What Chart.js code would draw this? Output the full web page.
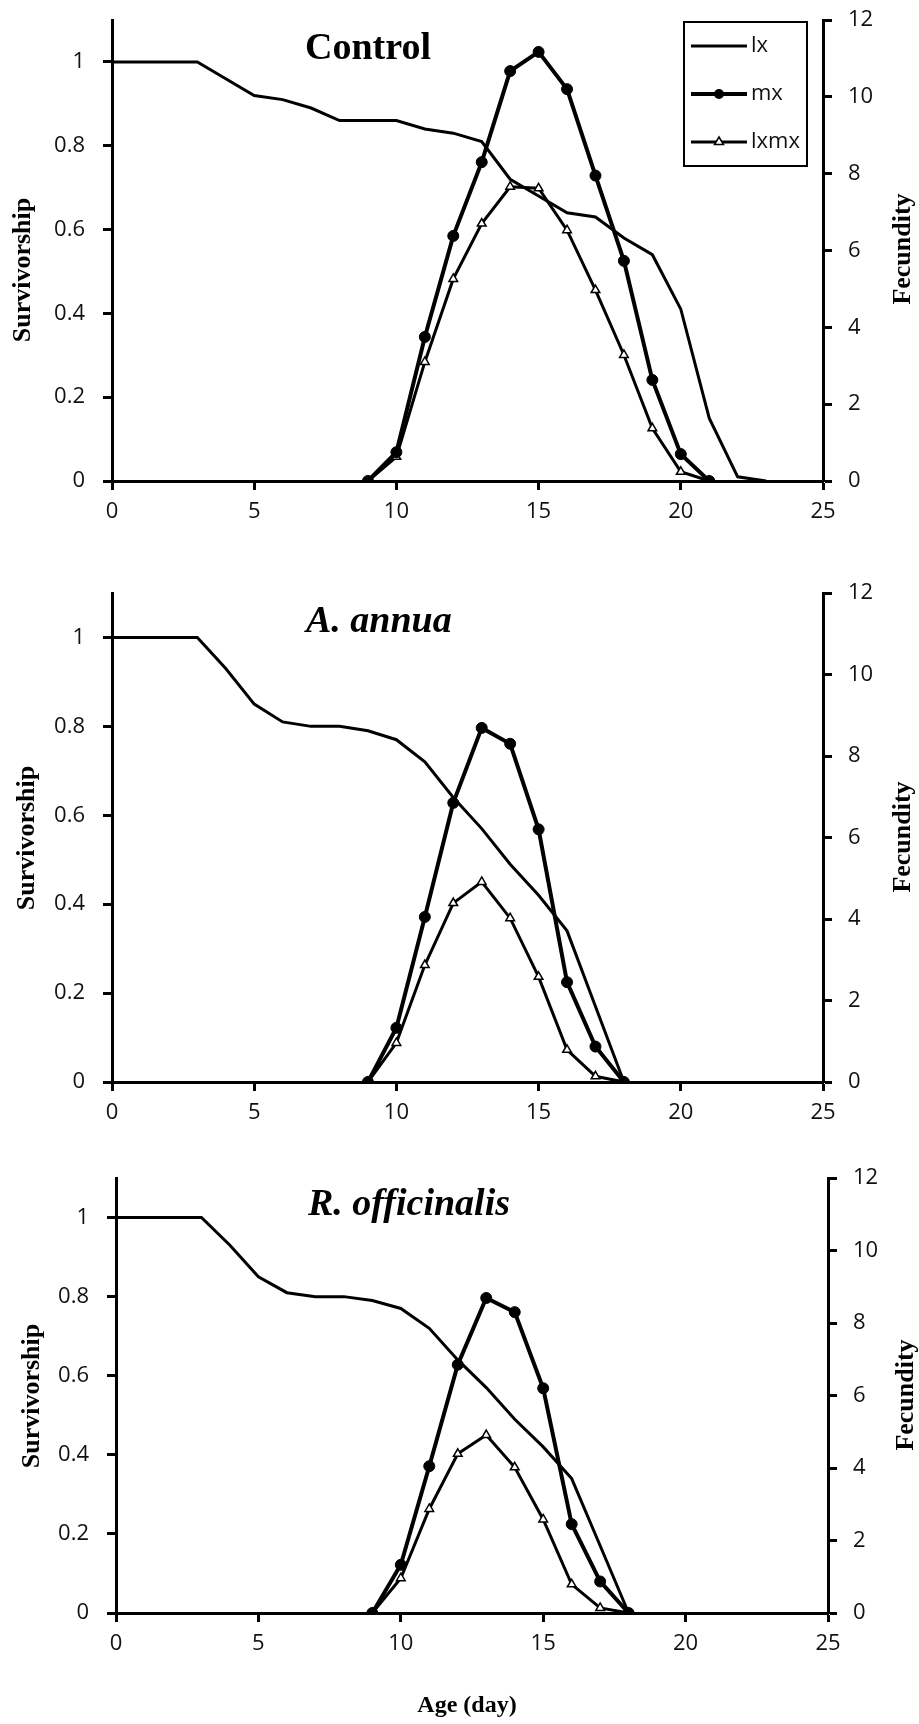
<!DOCTYPE html>
<html>
<head>
<meta charset="utf-8">
<script src="https://cdn.jsdelivr.net/npm/chart.js@4.4.1/dist/chart.umd.min.js"></script>
<style>
body { margin: 0; background: #fff; }
.panel { position: absolute; left: 0; }
</style>
</head>
<body>
<div class="panel" style="top:0px"><canvas id="c1" width="919" height="560"></canvas></div>
<div class="panel" style="top:560px"><canvas id="c2" width="919" height="590"></canvas></div>
<div class="panel" style="top:1150px"><canvas id="c3" width="919" height="574"></canvas></div>
<script>
// Control
var ctlLxDays = [0,1,2,3,4,5,6,7,8,9,10,11,12,13,14,15,16,17,18,19,20,21,22,23];
var ctlLx     = [1,1,1,1,0.96,0.92,0.91,0.89,0.86,0.86,0.86,0.84,0.83,0.81,0.72,0.68,0.64,0.63,0.58,0.54,0.41,0.15,0.01,0];
var ctlMxDays = [9,10,11,12,13,14,15,16,17,18,19,20,21];
var ctlMx     = [0,0.75,3.75,6.38,8.3,10.67,11.17,10.2,7.95,5.73,2.63,0.7,0];
var ctlLxmx   = [0,0.63,3.1,5.26,6.7,7.66,7.62,6.53,4.97,3.28,1.37,0.24,0];

// A. annua
var annLxDays = [0,1,2,3,4,5,6,7,8,9,10,11,12,13,14,15,16,17,18];
var annLx     = [1,1,1,1,0.93,0.85,0.81,0.80,0.80,0.79,0.77,0.72,0.64,0.57,0.49,0.42,0.34,0.17,0];
var annMxDays = [9,10,11,12,13,14,15,16,17,18];
var annMx     = [0,1.33,4.05,6.85,8.69,8.3,6.2,2.45,0.87,0];
var annLxmx   = [0,0.96,2.87,4.39,4.91,4.02,2.58,0.79,0.14,0];

// R. officinalis
var rofLxDays = [0,1,2,3,4,5,6,7,8,9,10,11,12,13,14,15,16,17,18];
var rofLx     = [1,1,1,1,0.93,0.85,0.81,0.80,0.80,0.79,0.77,0.72,0.64,0.57,0.49,0.42,0.34,0.17,0];
var rofMxDays = [9,10,11,12,13,14,15,16,17,18];
var rofMx     = [0,1.33,4.05,6.85,8.69,8.3,6.2,2.45,0.87,0];
var rofLxmx   = [0,0.96,2.87,4.39,4.91,4.02,2.58,0.79,0.14,0];

var xTicks = [0, 25, 5];      // min, max, step
var survTicks = [0, 1.1, 0.2];
var fecTicks = [0, 12, 2];

function pts(xs, ys) {
	return xs.map(function(x, i){ return {x: x, y: ys[i]}; });
}

var decor = {
	id: 'decor',
	afterDraw: function(chart, args, o) {
		var ctx = chart.ctx;
		ctx.save();
		ctx.fillStyle = '#000';
		ctx.font = (o.italic ? 'italic ' : '') + 'bold 38px "Liberation Serif"';
		ctx.textAlign = 'left';
		ctx.textBaseline = 'alphabetic';
		ctx.fillText(o.title, o.titleX, o.titleY);

		ctx.font = 'bold 26px "Liberation Serif"';
		ctx.textAlign = 'center';
		ctx.textBaseline = 'middle';
		[[o.leftTitle, o.leftX, o.leftY], [o.rightTitle, o.rightX, o.rightY]].forEach(function(t){
			ctx.save();
			ctx.translate(t[1], t[2]);
			ctx.rotate(-Math.PI / 2);
			ctx.fillText(t[0], 0, 0);
			ctx.restore();
		});

		if (o.xTitle) {
			ctx.font = 'bold 24px "Liberation Serif"';
			ctx.fillText(o.xTitle, o.xTitleX, o.xTitleY);
		}

		if (o.legend) {
			ctx.strokeStyle = '#000';
			ctx.lineWidth = 2;
			ctx.strokeRect(684, 22, 123, 144);
			var rows = [46, 94, 142];
			chart.data.datasets.forEach(function(ds, i){
				var y = rows[i];
				ctx.beginPath();
				ctx.lineWidth = ds.borderWidth;
				ctx.moveTo(691, y);
				ctx.lineTo(747, y);
				ctx.stroke();
				if (ds.pointStyle === 'circle') {
					ctx.beginPath();
					ctx.arc(719, y, 5, 0, Math.PI * 2);
					ctx.fill();
				} else if (ds.pointStyle === 'triangle') {
					ctx.beginPath();
					ctx.lineWidth = 1.5;
					ctx.moveTo(719, y - 5);
					ctx.lineTo(723.5, y + 2.5);
					ctx.lineTo(714.5, y + 2.5);
					ctx.closePath();
					ctx.fillStyle = '#fff';
					ctx.fill();
					ctx.stroke();
					ctx.fillStyle = '#000';
				}
				ctx.font = '22px "Open Sans"';
				ctx.textAlign = 'left';
				ctx.fillStyle = '#111';
				ctx.fillText(ds.label, 751, y);
				ctx.fillStyle = '#000';
			});
		}
		ctx.restore();
	}
};

function axisStyle() {
	return {
		grid: { drawOnChartArea: false, drawTicks: true, tickLength: 9, tickColor: '#000', tickWidth: 3 },
		border: { display: true, color: '#000', width: 3 }
	};
}

// keep Chart.js from pushing the plot area for label overhang
function noPad(s) {
	s.paddingTop = 0; s.paddingBottom = 0; s.paddingLeft = 0; s.paddingRight = 0;
}

function makeChart(id, lxPts, mxPts, lxmxPts, dims, deco) {
	var x = axisStyle(), yL = axisStyle(), yR = axisStyle();
	x.type = 'linear'; x.min = xTicks[0]; x.max = xTicks[1];
	x.ticks = { stepSize: xTicks[2], padding: 9, color: '#111', font: { family: 'Open Sans', size: 22 } };
	x.afterFit = function(s){ s.height = dims.xh; noPad(s); };

	yL.position = 'left'; yL.min = survTicks[0]; yL.max = survTicks[1];
	yL.ticks = { stepSize: survTicks[2], includeBounds: false, padding: 18, color: '#111',
		font: { family: 'Open Sans', size: 22 },
		callback: function(v){ return String(+v.toFixed(1)); } };
	yL.afterFit = function(s){ s.width = dims.left; noPad(s); };

	yR.position = 'right'; yR.min = fecTicks[0]; yR.max = fecTicks[1];
	yR.ticks = { stepSize: fecTicks[2], padding: 16, color: '#111', font: { family: 'Open Sans', size: 22 } };
	yR.afterFit = function(s){ s.width = dims.right; noPad(s); };

	return new Chart(document.getElementById(id), {
		type: 'line',
		data: {
			datasets: [
				{ label: 'lx', data: lxPts, yAxisID: 'yL', borderColor: '#000', borderWidth: 3,
				  pointRadius: 0, tension: 0, fill: false },
				{ label: 'mx', data: mxPts, yAxisID: 'yR', borderColor: '#000', borderWidth: 4,
				  pointStyle: 'circle', pointRadius: 5.5, pointBackgroundColor: '#000',
				  pointBorderColor: '#000', pointBorderWidth: 1, tension: 0, fill: false },
				{ label: 'lxmx', data: lxmxPts, yAxisID: 'yR', borderColor: '#000', borderWidth: 3,
				  pointStyle: 'triangle', pointRadius: 5, pointBackgroundColor: '#fff',
				  pointBorderColor: '#000', pointBorderWidth: 1.5, tension: 0, fill: false }
			]
		},
		options: {
			responsive: false,
			animation: false,
			layout: { padding: { top: dims.top, left: 0, right: 0, bottom: 0 } },
			plugins: { legend: { display: false }, tooltip: { enabled: false }, decor: deco },
			scales: { x: x, yL: yL, yR: yR }
		},
		plugins: [decor]
	});
}

makeChart('c1', pts(ctlLxDays, ctlLx), pts(ctlMxDays, ctlMx), pts(ctlMxDays, ctlLxmx),
	{ top: 20, xh: 79, left: 112, right: 96 },
	{ title: 'Control', italic: false, titleX: 305, titleY: 59,
	  leftTitle: 'Survivorship', leftX: 23, leftY: 270,
	  rightTitle: 'Fecundity', rightX: 903, rightY: 249, legend: true });

makeChart('c2', pts(annLxDays, annLx), pts(annMxDays, annMx), pts(annMxDays, annLxmx),
	{ top: 33, xh: 68, left: 112, right: 96 },
	{ title: 'A. annua', italic: true, titleX: 306, titleY: 72,
	  leftTitle: 'Survivorship', leftX: 27, leftY: 278,
	  rightTitle: 'Fecundity', rightX: 903, rightY: 277, legend: false });

makeChart('c3', pts(rofLxDays, rofLx), pts(rofMxDays, rofMx), pts(rofMxDays, rofLxmx),
	{ top: 28, xh: 111, left: 116, right: 91 },
	{ title: 'R. officinalis', italic: true, titleX: 308, titleY: 65,
	  leftTitle: 'Survivorship', leftX: 32, leftY: 246,
	  rightTitle: 'Fecundity', rightX: 906, rightY: 245, legend: false,
	  xTitle: 'Age (day)', xTitleX: 467, xTitleY: 556 });
</script>
</body>
</html>
